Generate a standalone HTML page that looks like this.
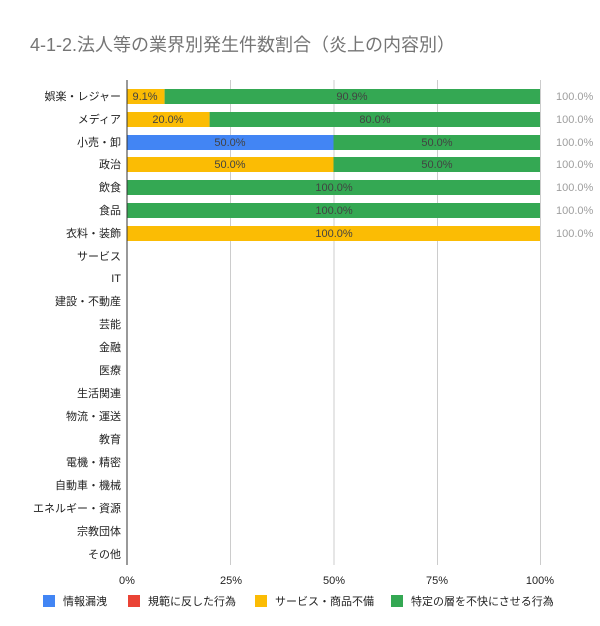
<!DOCTYPE html>
<html><head><meta charset="utf-8"><style>
body{margin:0;background:#fff;}
svg text{font-family:"Liberation Sans","Noto Sans CJK JP",sans-serif;}
</style></head><body>
<svg width="600" height="621" xmlns="http://www.w3.org/2000/svg">
<rect width="600" height="621" fill="#fff"/>
<text x="30" y="51" font-size="18" fill="#757575">4-1-2.法人等の業界別発生件数割合（炎上の内容別）</text>
<g stroke="#ccc" stroke-width="1">
<line x1="230.5" y1="80" x2="230.5" y2="565"/>
<line x1="334" y1="80" x2="334" y2="565"/>
<line x1="437.5" y1="80" x2="437.5" y2="565"/>
<line x1="540.5" y1="80" x2="540.5" y2="565"/>
</g>
<g>
<rect x="127" y="89" width="37.6" height="15" fill="#fbbc04"/>
<rect x="164.6" y="89" width="375.4" height="15" fill="#34a853"/>
<rect x="127" y="112" width="82.6" height="15" fill="#fbbc04"/>
<rect x="209.6" y="112" width="330.4" height="15" fill="#34a853"/>
<rect x="127" y="135" width="206.5" height="15" fill="#4285f4"/>
<rect x="333.5" y="135" width="206.5" height="15" fill="#34a853"/>
<rect x="127" y="157" width="206.5" height="15" fill="#fbbc04"/>
<rect x="333.5" y="157" width="206.5" height="15" fill="#34a853"/>
<rect x="127" y="180" width="413" height="15" fill="#34a853"/>
<rect x="127" y="203" width="413" height="15" fill="#34a853"/>
<rect x="127" y="226" width="413" height="15" fill="#fbbc04"/>
</g>
<line x1="127" y1="80" x2="127" y2="565" stroke="#333" stroke-width="1"/>
<g font-size="11" fill="#424242" text-anchor="middle">
<text x="145" y="100">9.1%</text><text x="352" y="100">90.9%</text>
<text x="168" y="123">20.0%</text><text x="375" y="123">80.0%</text>
<text x="230" y="146">50.0%</text><text x="437" y="146">50.0%</text>
<text x="230" y="168">50.0%</text><text x="437" y="168">50.0%</text>
<text x="334" y="191">100.0%</text>
<text x="334" y="214">100.0%</text>
<text x="334" y="237">100.0%</text>
</g>
<g font-size="11" fill="#9e9e9e">
<text x="556" y="100">100.0%</text>
<text x="556" y="123">100.0%</text>
<text x="556" y="146">100.0%</text>
<text x="556" y="168">100.0%</text>
<text x="556" y="191">100.0%</text>
<text x="556" y="214">100.0%</text>
<text x="556" y="237">100.0%</text>
</g>
<g font-size="11" fill="#222" text-anchor="end">
<text x="121" y="100">娯楽・レジャー</text>
<text x="121" y="123">メディア</text>
<text x="121" y="146">小売・卸</text>
<text x="121" y="168">政治</text>
<text x="121" y="191">飲食</text>
<text x="121" y="214">食品</text>
<text x="121" y="237">衣料・装飾</text>
<text x="121" y="260">サービス</text>
<text x="121" y="282">IT</text>
<text x="121" y="305">建設・不動産</text>
<text x="121" y="328">芸能</text>
<text x="121" y="351">金融</text>
<text x="121" y="374">医療</text>
<text x="121" y="397">生活関連</text>
<text x="121" y="420">物流・運送</text>
<text x="121" y="443">教育</text>
<text x="121" y="466">電機・精密</text>
<text x="121" y="489">自動車・機械</text>
<text x="121" y="512">エネルギー・資源</text>
<text x="121" y="535">宗教団体</text>
<text x="121" y="558">その他</text>
</g>
<g font-size="11" fill="#222" text-anchor="middle">
<text x="127" y="584">0%</text>
<text x="231" y="584">25%</text>
<text x="334" y="584">50%</text>
<text x="437" y="584">75%</text>
<text x="540" y="584">100%</text>
</g>
<g font-size="11" fill="#222">
<rect x="43" y="595" width="12" height="12" fill="#4285f4"/><text x="63" y="605">情報漏洩</text>
<rect x="128" y="595" width="12" height="12" fill="#ea4335"/><text x="148" y="605">規範に反した行為</text>
<rect x="255" y="595" width="12" height="12" fill="#fbbc04"/><text x="275" y="605">サービス・商品不備</text>
<rect x="391" y="595" width="12" height="12" fill="#34a853"/><text x="411" y="605">特定の層を不快にさせる行為</text>
</g>
</svg>
</body></html>
